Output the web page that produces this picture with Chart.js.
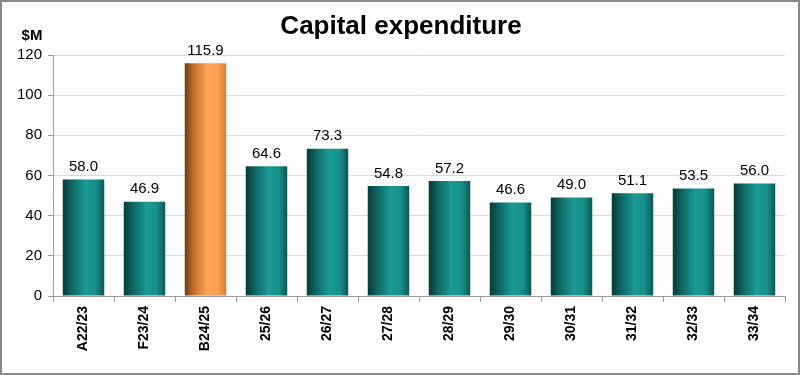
<!DOCTYPE html>
<html>
<head>
<meta charset="utf-8">
<script src="https://cdn.jsdelivr.net/npm/chart.js@4"></script>
<style>
  html, body { margin: 0; padding: 0; background: #fff; }
  #wrap { width: 800px; height: 375px; box-sizing: border-box; border: 2px solid #8a8a8a; position: relative; }
  #wrap canvas { position: absolute; left: -2px; top: -2px; }
</style>
</head>
<body>
<div id="wrap"><canvas id="capex" width="800" height="375"></canvas></div>
<script>
const categories = ["A22/23", "F23/24", "B24/25", "25/26", "26/27", "27/28", "28/29", "29/30", "30/31", "31/32", "32/33", "33/34"];
const capex = [58.0, 46.9, 115.9, 64.6, 73.3, 54.8, 57.2, 46.6, 49.0, 51.1, 53.5, 56.0];
const highlightIndex = 2;
const yTicks = [0, 20, 40, 60, 80, 100, 120];

const font = "'Liberation Sans', Arial, sans-serif";

// horizontal shading across each bar
const barFill = (c) => {
    const chart = c.chart;
    const xs = chart.scales.x;
    if (!xs || !chart.chartArea) return "#138883";
    const cw = xs.width / categories.length;
    const bw = cw * 0.68;
    const cx = xs.getPixelForValue(c.dataIndex);
    const g = chart.ctx.createLinearGradient(cx - bw / 2, 0, cx + bw / 2, 0);
    if (c.dataIndex === highlightIndex) {
        g.addColorStop(0, "#6e3a12");
        g.addColorStop(0.2, "#c06c2c");
        g.addColorStop(0.55, "#ffa556");
        g.addColorStop(0.8, "#fb9d4e");
        g.addColorStop(1, "#d57f38");
    } else {
        g.addColorStop(0, "#073a38");
        g.addColorStop(0.2, "#0d625e");
        g.addColorStop(0.55, "#1a9b95");
        g.addColorStop(0.8, "#178e89");
        g.addColorStop(1, "#0c5753");
    }
    return g;
};

const decorations = {
    id: "decorations",
    beforeDraw(chart) {
        const { ctx, chartArea: a } = chart;
        ctx.save();
        ctx.fillStyle = "#fdfdfd";
        ctx.fillRect(a.left, a.top, a.right - a.left, a.bottom - a.top);
        ctx.restore();
    },
    afterDraw(chart) {
        const { ctx } = chart;
        ctx.save();
        ctx.fillStyle = "#000";
        ctx.textAlign = "center";
        ctx.textBaseline = "middle";
        ctx.font = "bold 26px " + font;
        ctx.fillText("Capital expenditure", 401, 27);
        ctx.font = "bold 15px " + font;
        ctx.fillText("$M", 32, 36);

        // value labels
        ctx.font = "15px " + font;
        ctx.textBaseline = "bottom";
        const meta = chart.getDatasetMeta(0);
        meta.data.forEach((bar, i) => {
            ctx.fillText(capex[i].toFixed(1), bar.x, bar.y - 5);
        });
        ctx.restore();
    }
};

new Chart(document.getElementById("capex"), {
    type: "bar",
    data: {
        labels: categories,
        datasets: [{
            data: capex,
            backgroundColor: barFill,
            borderWidth: 0,
            categoryPercentage: 1,
            barPercentage: 0.68
        }]
    },
    options: {
        responsive: false,
        animation: false,
        layout: { padding: { top: 55, right: 15, left: 0, bottom: 0 } },
        plugins: { legend: { display: false }, tooltip: { enabled: false }, title: { display: false } },
        scales: {
            y: {
                min: 0, max: 120,
                afterBuildTicks: (s) => { s.ticks = yTicks.map(v => ({ value: v })); },
                afterFit: (s) => { s.width = 53; },
                ticks: { color: "#000", font: { family: font, size: 15 }, padding: 6 },
                grid: { color: "#d9d9d9", lineWidth: 1, tickLength: 5, tickColor: "#9a9a9a" },
                border: { color: "#9a9a9a", width: 1 }
            },
            x: {
                afterFit: (s) => { s.height = 79; },
                ticks: { color: "#000", font: { family: font, size: 14, weight: "bold" }, minRotation: 90, maxRotation: 90, padding: 4 },
                grid: { offset: true, drawOnChartArea: false, drawTicks: true, tickLength: 6, color: "#9a9a9a" },
                border: { color: "#9a9a9a", width: 1 }
            }
        }
    },
    plugins: [decorations]
});
</script>
</body>
</html>
